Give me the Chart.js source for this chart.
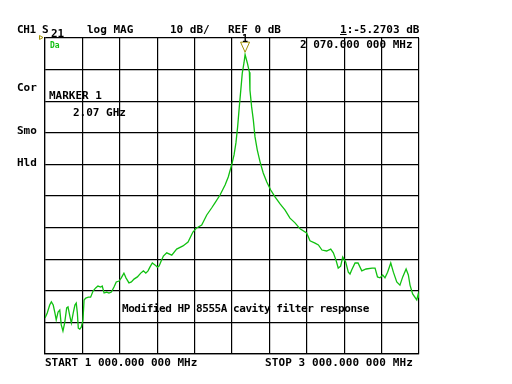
<!DOCTYPE html>
<html>
<head>
<meta charset="utf-8">
<script src="https://cdn.jsdelivr.net/npm/chart.js@4.4.0/dist/chart.umd.min.js"></script>
<style>
  body { margin: 0; background: #fff; }
  #wrap { position: relative; width: 512px; height: 384px; overflow: hidden; }
  canvas { position: absolute; left: 0; top: 0; }
  .t { position: absolute; font-family: "DejaVu Sans Mono", monospace; font-weight: bold;
       font-size: 11px; line-height: 11px; color: #000; white-space: pre; }
</style>
</head>
<body>
<div id="wrap">
  <canvas id="vna" width="512" height="384"></canvas>
  <div class="t" style="left:17px;top:24px;letter-spacing:-0.4px">CH1 S</div>
  <div class="t" style="left:51px;top:28px">21</div>
  <div class="t" style="left:87px;top:24px">log MAG</div>
  <div class="t" style="left:170px;top:24px">10 dB/</div>
  <div class="t" style="left:228px;top:24px">REF 0 dB</div>
  <div class="t" style="left:340px;top:24px"><u>1</u>:-5.2703 dB</div>
  <div class="t" style="left:300px;top:39px">2 070.000 000 MHz</div>
  <div class="t" style="left:50px;top:42px;font-size:8px;line-height:8px;color:#10c010">Da</div>
  <div class="t" style="left:17px;top:82px">Cor</div>
  <div class="t" style="left:49px;top:90px">MARKER 1</div>
  <div class="t" style="left:73px;top:107px">2.07 GHz</div>
  <div class="t" style="left:17px;top:125px">Smo</div>
  <div class="t" style="left:17px;top:157px">Hld</div>
  <div class="t" style="left:122px;top:303px;letter-spacing:-0.45px">Modified HP 8555A cavity filter response</div>
  <div class="t" style="left:45px;top:357px">START 1 000.000 000 MHz</div>
  <div class="t" style="left:265px;top:357px;letter-spacing:0.1px">STOP 3 000.000 000 MHz</div>
</div>
<script>
// sweep settings
const startMHz = 1000;
const stopMHz = 3000;
const refDb = 0;
const dbPerDiv = 10;

// marker 1
const markerMHz = 2070;
const markerDb = -5.27;

// trace (S21, dB)
const freqMHz = [
  1000, 1012, 1025, 1034, 1044, 1053, 1060, 1070, 1079, 1087, 1096, 1105, 1116, 1123, 1134, 1141,
  1151, 1160, 1167, 1173, 1178, 1186, 1194, 1203, 1209, 1218, 1232, 1244, 1257, 1271, 1283, 1298,
  1306, 1316, 1330, 1342, 1355, 1369, 1381, 1396, 1408, 1422, 1433, 1449, 1462, 1476, 1494, 1512,
  1526, 1539, 1551, 1561, 1574, 1588, 1601, 1610, 1619, 1633, 1651, 1678, 1704, 1738, 1765, 1791,
  1811, 1838, 1865, 1891, 1909, 1936, 1963, 1980, 1998, 2011, 2021, 2030, 2039, 2047, 2055, 2064,
  2070, 2082, 2093, 2096, 2105, 2114, 2123, 2135, 2150, 2167, 2186, 2207, 2230, 2257, 2283, 2310,
  2337, 2364, 2399, 2417, 2444, 2462, 2481, 2506, 2528, 2542, 2556, 2568, 2581, 2592, 2608, 2622,
  2631, 2640, 2658, 2674, 2694, 2717, 2749, 2765, 2778, 2791, 2806, 2818, 2832, 2849, 2863, 2881,
  2898, 2913, 2931, 2943, 2952, 2966, 2988, 2996, 3000
];
const levelDb = [
  -88.6, -87.0, -84.5, -83.5, -84.5, -87.0, -89.2, -86.7, -86.1, -90.8, -92.7, -90.2, -85.4, -85.1, -88.3, -90.2,
  -87.0, -84.5, -83.9, -87.0, -91.8, -92.1, -91.5, -89.2, -82.9, -82.3, -82.0, -82.0, -80.1, -79.1, -78.5, -78.8,
  -78.5, -80.7, -80.4, -80.7, -80.4, -78.8, -77.2, -76.9, -75.9, -74.4, -75.9, -77.5, -77.2, -76.3, -75.6, -74.4,
  -73.7, -74.4, -73.7, -72.5, -71.2, -71.8, -72.5, -72.2, -70.9, -69.0, -68.0, -68.7, -66.8, -65.8, -64.6, -61.4,
  -60.1, -59.2, -56.0, -53.8, -52.2, -49.7, -46.5, -44.0, -40.2, -37.0, -33.2, -28.2, -21.8, -16.5, -11.1, -7.9,
  -5.27, -7.9, -10.8, -16.5, -21.8, -25.9, -31.3, -35.4, -39.2, -42.7, -45.6, -48.1, -50.3, -52.5, -54.4, -57.0,
  -58.5, -60.4, -61.7, -64.2, -64.9, -65.5, -67.1, -67.4, -66.8, -68.0, -70.3, -72.8, -72.2, -69.3, -70.9, -74.1,
  -74.7, -73.4, -71.2, -71.2, -73.7, -73.1, -72.8, -72.8, -75.6, -75.9, -75.0, -75.9, -74.1, -71.2, -74.1, -77.2,
  -78.2, -75.6, -73.1, -75.0, -78.2, -81.0, -82.9, -81.0, -82.3
];

const trace = freqMHz.map((f, i) => ({ x: f, y: levelDb[i] }));

// marker triangle + reference arrow
const markerPlugin = {
  id: 'vnaMarker',
  afterDatasetsDraw(chart) {
    const ctx = chart.ctx;
    const xs = chart.scales.x, ys = chart.scales.y;
    const px = xs.getPixelForValue(markerMHz);
    const py = ys.getPixelForValue(markerDb);
    ctx.save();
    ctx.strokeStyle = '#a09000';
    ctx.lineWidth = 1;
    ctx.beginPath();
    ctx.moveTo(px - 4.5, py - 12.5);
    ctx.lineTo(px + 4.5, py - 12.5);
    ctx.lineTo(px, py - 2.5);
    ctx.closePath();
    ctx.stroke();
    ctx.fillStyle = '#000';
    ctx.font = 'bold 10px "DejaVu Sans Mono"';
    ctx.textAlign = 'center';
    ctx.fillText('1', px, py - 13);
    // reference level arrow
    const ry = ys.getPixelForValue(refDb);
    const lx = xs.left;
    ctx.beginPath();
    ctx.moveTo(lx - 5.5, ry - 2.5);
    ctx.lineTo(lx - 2, ry - 0.5);
    ctx.lineTo(lx - 5.5, ry + 1.5);
    ctx.closePath();
    ctx.stroke();
    ctx.restore();
  }
};

new Chart(document.getElementById('vna'), {
  type: 'line',
  data: {
    datasets: [{
      data: trace,
      borderColor: '#10c010',
      borderWidth: 1.3,
      pointRadius: 0,
      tension: 0,
      fill: false
    }]
  },
  options: {
    responsive: false,
    animation: false,
    devicePixelRatio: 1,
    layout: { padding: { left: 45, top: 38, right: 93, bottom: 30 } },
    plugins: { legend: { display: false }, tooltip: { enabled: false }, title: { display: false } },
    scales: {
      x: {
        type: 'linear', min: startMHz, max: stopMHz,
        ticks: { display: false, stepSize: (stopMHz - startMHz) / 10 },
        grid: { color: '#000', lineWidth: 1.2, drawTicks: false },
        border: { color: '#000', width: 1.2 }
      },
      y: {
        type: 'linear', min: refDb - 10 * dbPerDiv, max: refDb,
        ticks: { display: false, stepSize: dbPerDiv },
        grid: { color: '#000', lineWidth: 1.2, drawTicks: false },
        border: { color: '#000', width: 1.2 }
      }
    }
  },
  plugins: [markerPlugin]
});
</script>
</body>
</html>
